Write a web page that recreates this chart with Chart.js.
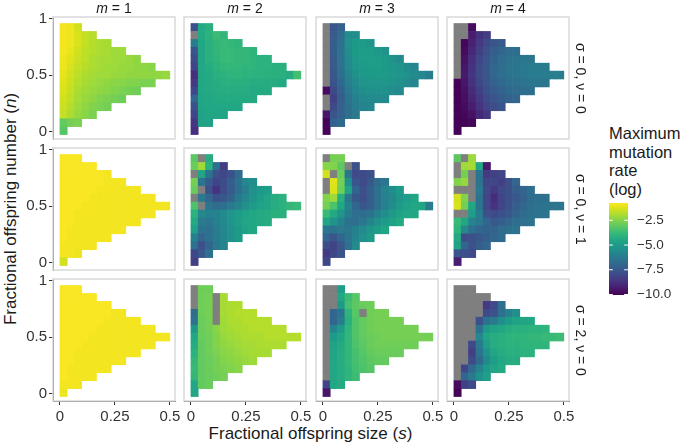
<!DOCTYPE html>
<html>
<head>
<meta charset="utf-8">
<script src="https://cdn.jsdelivr.net/npm/chart.js@4.4.1/dist/chart.umd.min.js"></script>
<style>
  body { margin: 0; width: 683px; height: 445px; overflow: hidden; position: relative; background: #fff;
         font-family: "Liberation Sans", Arial, sans-serif; color: #1a1a1a; }
  .box { position: absolute; }
  .box canvas { display: block; }
  .strip-top { position: absolute; top: 0; height: 17px; line-height: 17px; font-size: 14px; text-align: center; white-space: nowrap; }
  .strip-right { position: absolute; width: 17px; line-height: 17px; font-size: 14px; writing-mode: vertical-rl; text-align: center; white-space: nowrap; }
  .title-x { position: absolute; left: 53px; width: 515px; top: 424px; height: 20px; line-height: 20px; font-size: 17px; text-align: center; white-space: nowrap; }
  .title-y { position: absolute; left: -189px; width: 400px; top: 199px; height: 20px; line-height: 20px; font-size: 17px; text-align: center; white-space: nowrap; transform: rotate(-90deg); }
  .legend-title { position: absolute; left: 609px; top: 124px; font-size: 16.5px; line-height: 18.7px; }
</style>
</head>
<body>
<div class="title-y">Fractional offspring number (<i>n</i>)</div>
<div class="title-x">Fractional offspring size (<i>s</i>)</div>
<div class="legend-title">Maximum<br>mutation<br>rate<br>(log)</div>
<script>
// Grid positions (cell centres)
const S_VALUES = [0.017, 0.05, 0.083, 0.117, 0.15, 0.183, 0.217, 0.25, 0.283, 0.317, 0.35, 0.383, 0.417, 0.45, 0.483];
const N_VALUES = [0.92, 0.85, 0.78, 0.71, 0.64, 0.57, 0.5, 0.43, 0.36, 0.29, 0.22, 0.15, 0.08, 0.01];
const S_STEP = 0.0333;
const N_STEP = 0.07;

// Facet labels
const M_LABELS = ['1', '2', '3', '4'];
const CONDITION_LABELS = ['σ = 0, ν = 0', 'σ = 0, ν = 1', 'σ = 2, ν = 0'];

// Ticks
const X_TICKS = [0, 0.25, 0.5];
const Y_TICKS = [0, 0.5, 1];
const LEGEND_TICKS = [-2.5, -5, -7.5, -10];

// Colour scale limits (log mutation rate)
const V_MIN = -10.05;
const V_MAX = -0.75;

// Maximum mutation rate (log), rows from n = 0.92 (top) down to n = 0.01; null = no value
const RATE_M1_S0V0 = [
  [-0.9, -1.0, -1.4],
  [-0.9, -1.0, -1.3, -1.6, -1.8],
  [-0.9, -1.0, -1.3, -1.6, -1.8, -1.9, -2.0],
  [-0.9, -1.1, -1.4, -1.7, -1.8, -1.9, -2.0, -2.1, -2.1],
  [-1.0, -1.2, -1.5, -1.7, -1.9, -2.0, -2.0, -2.1, -2.1, -2.2, -2.3],
  [-1.0, -1.3, -1.6, -1.8, -1.9, -2.0, -2.1, -2.1, -2.2, -2.2, -2.3, -2.3, -2.4],
  [-1.1, -1.4, -1.7, -1.9, -2.0, -2.1, -2.1, -2.2, -2.2, -2.3, -2.3, -2.3, -2.3, -2.3, -2.2],
  [-1.2, -1.5, -1.8, -2.0, -2.1, -2.2, -2.3, -2.4, -2.4, -2.5, -2.5, -2.6, -2.6],
  [-1.3, -1.6, -1.9, -2.1, -2.2, -2.3, -2.4, -2.5, -2.6, -2.7, -2.8],
  [-1.4, -1.7, -2.0, -2.2, -2.3, -2.5, -2.6, -2.7, -2.8],
  [-1.5, -1.8, -2.1, -2.3, -2.5, -2.6, -2.7],
  [-1.6, -1.9, -2.2, -2.4, -2.6],
  [-3.0, -2.7, -2.6],
  [-3.2]
];
const RATE_M2_S0V0 = [
  [-7.8, -4.4, -4.2],
  [null, -4.4, -4.1, -3.7, -3.9],
  [-6.2, -4.5, -4.2, -3.9, -3.8, -3.9, -4.0],
  [-7.6, -4.5, -4.2, -3.9, -3.8, -3.8, -3.9, -3.9, -4.0],
  [-7.9, -4.5, -4.2, -4.0, -3.8, -3.8, -3.9, -3.9, -4.0, -4.1, -4.1],
  [-8.2, -4.5, -4.3, -4.1, -3.9, -3.9, -3.9, -4.0, -4.0, -4.1, -4.1, -4.2, -4.2],
  [-8.8, -4.5, -4.4, -4.2, -4.1, -4.0, -4.0, -4.1, -4.1, -4.1, -4.2, -4.2, -4.2, -4.3, -3.6],
  [-8.5, -4.5, -4.4, -4.3, -4.2, -4.2, -4.2, -4.2, -4.3, -4.3, -4.3, -4.3, -4.4],
  [-8.1, -4.5, -4.4, -4.3, -4.3, -4.3, -4.3, -4.3, -4.4, -4.4, -4.4],
  [-7.0, -4.6, -4.5, -4.4, -4.4, -4.4, -4.4, -4.4, -4.4],
  [-7.8, -4.6, -4.5, -4.5, -4.5, -4.5, -4.5],
  [-8.2, -4.7, -4.6, -4.6, -4.6],
  [-8.6, -4.7, -4.7],
  [-8.8]
];
const RATE_M3_S0V0 = [
  [null, -7.6, -7.2],
  [null, -7.4, -6.8, -5.5, -5.5],
  [null, -7.3, -6.6, -5.4, -5.0, -5.0, -5.2],
  [null, -7.3, -6.5, -5.5, -5.0, -4.9, -4.9, -5.1, -5.3],
  [null, -7.4, -6.5, -5.6, -5.1, -4.9, -4.8, -4.9, -5.0, -5.3, -5.6],
  [null, -7.4, -6.6, -5.7, -5.2, -5.0, -4.9, -4.9, -5.0, -5.1, -5.3, -5.6, -5.8],
  [null, -7.5, -6.7, -5.9, -5.4, -5.1, -5.0, -5.0, -5.0, -5.1, -5.2, -5.4, -5.6, -5.8, -6.1],
  [null, -7.7, -6.9, -6.1, -5.6, -5.3, -5.2, -5.2, -5.2, -5.3, -5.4, -5.6, -5.8],
  [-9.8, -8.0, -7.1, -6.3, -5.8, -5.5, -5.4, -5.4, -5.4, -5.5, -5.6],
  [null, -8.3, -7.3, -6.5, -6.0, -5.7, -5.6, -5.6, -5.6],
  [null, -8.0, -7.2, -6.6, -6.1, -5.9, -5.8],
  [-9.5, -7.6, -7.1, -6.6, -6.3],
  [-10.0, -7.2, -6.9],
  [-10.0]
];
const RATE_M4_S0V0 = [
  [null, null, -9.8],
  [null, null, -9.3, -8.7, -8.4],
  [null, -9.9, -9.2, -8.5, -8.0, -7.6, -7.4],
  [null, -9.8, -9.0, -8.3, -7.8, -7.3, -7.0, -6.8, -6.7],
  [null, -9.6, -8.8, -8.1, -7.6, -7.1, -6.8, -6.6, -6.5, -6.4, -6.4],
  [null, -9.5, -8.7, -8.0, -7.5, -7.0, -6.7, -6.5, -6.4, -6.3, -6.2, -6.2, -6.2],
  [null, -9.4, -8.6, -8.0, -7.5, -7.0, -6.7, -6.5, -6.4, -6.3, -6.2, -6.2, -6.1, -6.1, -6.1],
  [-10.0, -9.5, -8.7, -8.1, -7.6, -7.2, -6.9, -6.7, -6.6, -6.5, -6.4, -6.4, -6.4],
  [-10.0, -9.6, -8.9, -8.3, -7.8, -7.4, -7.1, -6.9, -6.8, -6.7, -6.7],
  [-10.0, -9.7, -9.1, -8.5, -8.0, -7.6, -7.3, -7.1, -7.0],
  [-10.0, -9.8, -9.3, -8.7, -8.2, -7.9, -7.6],
  [-10.0, -9.9, -9.6, -9.0, -8.6],
  [-10.0, -10.0, -9.9],
  [-10.0]
];

const RATE_M1_S0V1 = [
  [-0.8, -0.8, -0.8],
  [-0.8, -0.8, -0.8, -0.8, -0.8],
  [-0.8, -0.8, -0.8, -0.8, -0.8, -0.8, -0.9],
  [-0.8, -0.8, -0.8, -0.8, -0.8, -0.8, -0.9, -0.9, -0.9],
  [-0.8, -0.8, -0.8, -0.8, -0.8, -0.9, -0.9, -0.9, -0.9, -0.9, -0.9],
  [-0.8, -0.8, -0.8, -0.8, -0.9, -0.9, -0.9, -0.9, -0.9, -0.9, -0.9, -0.9, -0.9],
  [-0.8, -0.8, -0.8, -0.9, -0.9, -0.9, -0.9, -0.9, -0.9, -0.9, -0.9, -0.9, -0.9, -0.9, -0.9],
  [-0.8, -0.8, -0.9, -0.9, -0.9, -0.9, -0.9, -0.9, -0.9, -0.9, -0.9, -0.9, -0.9],
  [-0.8, -0.8, -0.9, -0.9, -0.9, -0.9, -0.9, -0.9, -0.9, -0.9, -0.9],
  [-0.8, -0.9, -0.9, -0.9, -0.9, -0.9, -0.9, -0.9, -0.9],
  [-0.8, -0.9, -0.9, -0.9, -0.9, -0.9, -0.9],
  [-0.9, -0.9, -0.9, -0.9, -0.9],
  [-0.9, -0.9, -1.0],
  [-1.4]
];
const RATE_M2_S0V1 = [
  [-3.1, null, -4.3],
  [-2.9, -2.1, -4.1, -6.6, -8.4],
  [null, -4.6, -6.5, -7.8, -8.1, -7.8, -6.8],
  [-2.7, -6.5, -7.4, -8.2, -7.9, -7.3, -6.6, -5.8, -5.5],
  [-2.9, null, -7.8, -8.7, -8.0, -7.4, -6.7, -6.1, -5.4, -5.0, -4.9],
  [null, -6.3, -7.0, -7.8, -7.5, -7.1, -6.3, -5.8, -5.3, -4.9, -4.6, -4.3, -4.1],
  [-3.4, null, -6.5, -6.8, -6.7, -6.3, -5.9, -5.4, -5.0, -4.7, -4.6, -4.3, -4.1, -3.9, -3.8],
  [-4.1, -5.7, -6.0, -5.9, -5.6, -5.2, -4.9, -4.7, -4.5, -4.4, -4.3, -4.2, -4.2],
  [-4.4, -6.3, -6.4, -6.0, -5.7, -5.2, -4.8, -4.6, -4.5, -4.4, -4.3],
  [-4.8, -6.5, -6.6, -6.2, -5.8, -5.4, -5.0, -4.7, -4.5],
  [-6.0, -7.0, -6.6, -6.2, -5.8, -5.4, -5.0],
  [-6.6, -7.8, -7.0, -6.3, -5.9],
  [-8.1, -7.5, -6.6],
  [-8.3]
];
const RATE_M3_S0V1 = [
  [null, -2.7, -2.7],
  [-2.4, -2.5, -3.1, null, -7.8],
  [-1.4, null, -2.9, -6.4, -8.0, -8.0, -7.8],
  [null, -1.2, -2.7, -5.4, -7.6, -8.0, -7.5, -6.8, -6.4],
  [null, -1.3, -2.8, -4.6, -7.0, -7.8, -7.3, -6.6, -5.9, -5.5, -5.0],
  [-2.5, -2.1, -4.2, -6.4, -7.5, -7.9, -7.3, -6.6, -6.0, -5.7, -5.2, -4.9, -4.6],
  [-2.7, -3.4, -4.5, -6.0, -7.0, -7.6, -7.3, -6.6, -6.0, -5.5, -5.0, -4.7, -4.5, -4.5, -6.2],
  [-3.8, -4.4, -5.2, -6.2, -6.7, -6.8, -6.6, -6.0, -5.5, -5.0, -4.7, -4.5, -4.5],
  [-4.6, -5.3, -5.9, -6.6, -6.7, -6.4, -5.9, -5.4, -5.0, -4.7, -4.4],
  [-6.4, -6.5, -6.3, -6.4, -6.0, -5.6, -5.2, -4.9, -4.6],
  [-7.0, -7.6, -7.0, -6.4, -5.9, -5.4, -5.0],
  [-7.9, -8.2, -7.5, -6.6, -5.6],
  [-8.5, -8.1, -7.6],
  [-8.1]
];
const RATE_M4_S0V1 = [
  [-3.1, null, -2.1],
  [null, -2.1, -2.0, -4.5, -9.4],
  [null, -2.7, null, -6.4, -8.5, -8.3, -8.1],
  [-2.5, -2.2, null, -6.5, -8.1, -8.1, -8.3, -7.8, -7.0],
  [null, null, null, -6.3, -8.0, -8.5, -8.0, -7.8, -7.3, -7.0, -6.7],
  [-1.4, -2.5, null, -6.5, -8.1, -8.9, -8.2, -7.8, -7.5, -7.1, -6.8, -6.7, -6.6],
  [-1.3, -2.7, -4.5, -6.5, -8.1, -8.7, -8.2, -7.8, -7.3, -7.0, -6.7, -6.6, -6.5, -6.4, -6.4],
  [null, null, -4.9, -6.2, -7.8, -8.0, -7.8, -7.5, -7.1, -6.8, -6.6, -6.5, -6.5],
  [-3.8, -4.5, -5.9, -6.3, -7.0, -7.5, -7.3, -7.0, -6.7, -6.6, -6.5],
  [-4.0, -5.7, -6.6, -7.0, -7.1, -7.1, -6.8, -6.6, -6.5],
  [-4.4, -8.0, -7.8, -7.5, -7.3, -7.0, -6.8],
  [-4.7, -7.0, -7.8, -7.3, -7.0],
  [-7.6, -7.8, -8.0],
  [-9.3]
];

const RATE_M1_S2V0 = [
  [-0.8, -0.8, -0.8],
  [-0.8, -0.8, -0.8, -0.8, -0.8],
  [-0.8, -0.8, -0.8, -0.8, -0.8, -0.8, -0.8],
  [-0.8, -0.8, -0.8, -0.8, -0.8, -0.8, -0.8, -0.9, -0.9],
  [-0.8, -0.8, -0.8, -0.8, -0.8, -0.8, -0.9, -0.9, -0.9, -0.9, -0.9],
  [-0.8, -0.8, -0.8, -0.8, -0.8, -0.9, -0.9, -0.9, -0.9, -0.9, -0.9, -0.9, -0.9],
  [-0.8, -0.8, -0.8, -0.8, -0.9, -0.9, -0.9, -0.9, -0.9, -0.9, -0.9, -0.9, -0.9, -0.9, -0.9],
  [-0.8, -0.8, -0.8, -0.9, -0.9, -0.9, -0.9, -0.9, -0.9, -0.9, -0.9, -0.9, -0.9],
  [-0.8, -0.8, -0.9, -0.9, -0.9, -0.9, -0.9, -0.9, -0.9, -0.9, -0.9],
  [-0.8, -0.8, -0.9, -0.9, -0.9, -0.9, -0.9, -0.9, -0.9],
  [-0.8, -0.9, -0.9, -0.9, -0.9, -0.9, -0.9],
  [-0.8, -0.9, -0.9, -0.9, -0.9],
  [-0.9, -0.9, -0.9],
  [-1.0]
];
const RATE_M2_S2V0 = [
  [null, -2.8, -2.8],
  [null, -2.8, -2.7, null, -2.0],
  [null, -2.8, -2.7, null, -2.0, -1.9, -1.9],
  [-6.8, -2.8, -2.7, null, -2.0, -1.9, -1.8, -1.8, -1.8],
  [-6.6, -2.9, -2.7, null, -2.1, -1.9, -1.9, -1.8, -1.8, -1.8, -1.8],
  [-5.1, -2.9, -2.7, -2.4, -2.1, -2.0, -1.9, -1.9, -1.8, -1.8, -1.8, -1.8, -1.8],
  [-4.5, -2.9, -2.8, -2.5, -2.2, -2.1, -2.0, -1.9, -1.9, -1.9, -1.8, -1.8, -1.8, -1.8, -1.8],
  [-4.3, -3.0, -2.8, -2.5, -2.3, -2.2, -2.1, -2.0, -2.0, -1.9, -1.9, -1.9, -1.9],
  [-4.1, -3.0, -2.8, -2.6, -2.4, -2.3, -2.2, -2.1, -2.0, -2.0, -2.0],
  [-3.9, -3.0, -2.9, -2.7, -2.5, -2.4, -2.3, -2.2, -2.1],
  [-3.8, -3.0, -2.9, -2.7, -2.6, -2.5, -2.4],
  [-3.9, -3.0, -2.9, -2.8, -2.7],
  [-4.5, -3.0, -2.9],
  [-4.6]
];
const RATE_M3_S2V0 = [
  [null, null, -4.8],
  [null, null, -4.5, -3.7, -3.2],
  [null, null, -5.0, -3.5, -3.1, -2.9, -2.8],
  [null, -7.0, -6.5, -4.0, -3.2, null, -2.8, -2.7, -2.7],
  [null, -7.0, -6.2, -4.2, -3.3, -3.0, -2.8, -2.7, -2.7, -2.7, -2.7],
  [null, -5.9, -5.0, -4.0, -3.3, -3.0, -2.8, -2.7, -2.7, -2.7, -2.7, -2.7, -2.7],
  [null, -5.0, -4.6, -3.9, -3.3, -3.0, -2.9, -2.8, -2.7, -2.7, -2.7, -2.7, -2.7, -2.7, -2.7],
  [null, -4.7, -4.4, -3.9, -3.4, -3.1, -2.9, -2.8, -2.8, -2.8, -2.8, -2.8, -2.8],
  [null, -4.6, -4.3, -3.9, -3.5, -3.2, -3.0, -2.9, -2.9, -2.9, -2.9],
  [null, -4.5, -4.3, -3.9, -3.5, -3.3, -3.1, -3.0, -3.0],
  [null, -4.5, -4.3, -4.0, -3.6, -3.4, -3.2],
  [null, -4.5, -4.3, -4.0, -3.7],
  [-8.2, -4.5, -4.4],
  [-9.5]
];
const RATE_M4_S2V0 = [
  [null, null, null],
  [null, null, null, null, null],
  [null, null, null, null, -8.5, -8.0, -6.6],
  [null, null, null, null, -8.0, -7.8, -6.7, -6.0, -5.5],
  [null, null, null, -7.8, -6.6, -6.3, -5.5, -5.0, -4.7, -4.6, -4.5],
  [null, null, null, -6.6, -5.1, -4.7, -4.5, -4.3, -4.2, -4.2, -4.1, -4.1, -4.0],
  [null, null, null, -5.8, -4.6, -4.3, -4.2, -4.1, -4.0, -4.0, -3.9, -3.9, -3.8, -3.8, -3.7],
  [null, null, -8.0, -6.3, -4.8, -4.3, -4.2, -4.1, -4.1, -4.0, -4.0, -4.0, -4.0],
  [null, null, -8.3, -6.5, -5.4, -4.6, -4.3, -4.2, -4.2, -4.1, -4.1],
  [null, null, -8.0, -6.9, -5.7, -4.9, -4.5, -4.3, -4.3],
  [null, -8.1, -6.9, -5.9, -5.0, -4.6, -4.4],
  [null, -7.0, -6.3, -5.4, -4.8],
  [-9.8, -8.3, -8.0],
  [-10.0]
];

// Facet grid: rows = conditions, columns = m
const PANELS = [
  [RATE_M1_S0V0, RATE_M2_S0V0, RATE_M3_S0V0, RATE_M4_S0V0],
  [RATE_M1_S0V1, RATE_M2_S0V1, RATE_M3_S0V1, RATE_M4_S0V1],
  [RATE_M1_S2V0, RATE_M2_S2V0, RATE_M3_S2V0, RATE_M4_S2V0]
];

// Layout
const PANEL_LEFT = [53, 184, 316, 447];
const PANEL_TOP = [17, 148, 279];
const PANEL_SIZE = 122;
const AXIS_W = 53;
const AXIS_H = 32;
const PAD = 12;
const X_MIN = -0.031, X_MAX = 0.523;
const Y_MIN = -0.064, Y_MAX = 1.012;

const NA_COLOR = '#7f7f7f';
const BORDER_COLOR = '#d9d9d9';
const AXIS_COLOR = '#333333';
const VIRIDIS = ['#440154', '#471365', '#482475', '#463480', '#414487', '#3b528b', '#355f8d',
  '#2f6c8e', '#2a788e', '#25848e', '#21918c', '#1e9c89', '#22a884', '#2fb47c', '#44bf70',
  '#5ec962', '#7ad151', '#9bd93c', '#bddf26', '#dfe318', '#fde725'];

Chart.defaults.font.family = "'Liberation Sans', Arial, sans-serif";

function hexToRgb(h) {
  return [parseInt(h.slice(1, 3), 16), parseInt(h.slice(3, 5), 16), parseInt(h.slice(5, 7), 16)];
}

function viridis(t) {
  t = Math.min(1, Math.max(0, t));
  const p = t * (VIRIDIS.length - 1);
  const i = Math.min(VIRIDIS.length - 2, Math.floor(p));
  const f = p - i;
  const a = hexToRgb(VIRIDIS[i]), b = hexToRgb(VIRIDIS[i + 1]);
  const c = a.map((v, k) => Math.round(v + (b[k] - v) * f));
  return `rgb(${c[0]},${c[1]},${c[2]})`;
}

function rateColor(v) {
  return v === null ? NA_COLOR : viridis((v - V_MIN) / (V_MAX - V_MIN));
}

// Draws the tiles of a panel and its light border
const heatmapPlugin = {
  id: 'heatmap',
  beforeDatasetsDraw(chart) {
    const { ctx, chartArea: a, scales: { x, y } } = chart;
    ctx.save();
    ctx.beginPath();
    ctx.rect(a.left, a.top, a.width, a.height);
    ctx.clip();
    chart.data.datasets[0].data.forEach(p => {
      const x0 = x.getPixelForValue(p.x - S_STEP / 2);
      const x1 = x.getPixelForValue(p.x + S_STEP / 2);
      const y0 = y.getPixelForValue(p.y + N_STEP / 2);
      const y1 = y.getPixelForValue(p.y - N_STEP / 2);
      ctx.fillStyle = rateColor(p.v);
      // slight overlap so neighbouring tiles only leave a faint seam
      ctx.fillRect(x0 - 0.3, y0 - 0.3, x1 - x0 + 0.6, y1 - y0 + 0.6);
    });
    ctx.restore();
    ctx.save();
    ctx.strokeStyle = BORDER_COLOR;
    ctx.lineWidth = 1.5;
    ctx.strokeRect(a.left, a.top, a.width, a.height);
    ctx.restore();
  }
};

function axisOptions(show, tickValues, size, horizontal) {
  return {
    type: 'linear',
    display: show,
    z: 1,
    afterBuildTicks: s => { s.ticks = tickValues.map(v => ({ value: v })); },
    afterFit: s => {
      if (!show) return;
      if (horizontal) { s.height = size; s.paddingLeft = 0; s.paddingRight = 0; }
      else { s.width = size; s.paddingTop = 0; s.paddingBottom = 0; }
    },
    ticks: {
      color: AXIS_COLOR,
      font: { size: 15 },
      padding: horizontal ? 3 : 2,
      maxRotation: 0,
      autoSkip: false,
      callback: v => String(v)
    },
    grid: { display: true, drawOnChartArea: false, drawTicks: true, tickLength: 4, color: AXIS_COLOR, lineWidth: 1 },
    border: { display: true, color: AXIS_COLOR, width: 1 }
  };
}

function panelPoints(rows) {
  const pts = [];
  rows.forEach((row, j) => {
    row.forEach((v, k) => pts.push({ x: S_VALUES[k], y: N_VALUES[j], v: v }));
  });
  return pts;
}

function addBox(left, top, w, h) {
  const box = document.createElement('div');
  box.className = 'box';
  box.style.left = left + 'px';
  box.style.top = top + 'px';
  box.style.width = w + 'px';
  box.style.height = h + 'px';
  const canvas = document.createElement('canvas');
  canvas.width = w;
  canvas.height = h;
  box.appendChild(canvas);
  document.body.appendChild(box);
  return canvas;
}

function makePanel(r, c) {
  const isLeft = c === 0;
  const isBottom = r === PANELS.length - 1;
  const w = PANEL_SIZE + (isLeft ? AXIS_W : 0) + 2 * PAD;
  const h = PANEL_SIZE + (isBottom ? AXIS_H : 0) + 2 * PAD;
  const canvas = addBox(PANEL_LEFT[c] - (isLeft ? AXIS_W : 0) - PAD, PANEL_TOP[r] - PAD, w, h);

  const x = axisOptions(isBottom, X_TICKS, AXIS_H, true);
  x.min = X_MIN; x.max = X_MAX;
  const y = axisOptions(isLeft, Y_TICKS, AXIS_W, false);
  y.min = Y_MIN; y.max = Y_MAX;

  new Chart(canvas, {
    type: 'scatter',
    data: { datasets: [{ data: panelPoints(PANELS[r][c]), pointRadius: 0, showLine: false }] },
    options: {
      responsive: false,
      animation: false,
      devicePixelRatio: 1,
      events: [],
      layout: { padding: PAD },
      plugins: { legend: { display: false }, tooltip: { enabled: false } },
      scales: { x, y }
    },
    plugins: [heatmapPlugin]
  });
}

// Colour bar legend
const colorBarPlugin = {
  id: 'colorBar',
  beforeDatasetsDraw(chart) {
    const { ctx, chartArea: a, scales: { y } } = chart;
    const g = ctx.createLinearGradient(0, a.bottom, 0, a.top);
    VIRIDIS.forEach((c, i) => g.addColorStop(i / (VIRIDIS.length - 1), c));
    ctx.save();
    ctx.fillStyle = g;
    ctx.fillRect(a.left, a.top, a.width, a.height);
    ctx.strokeStyle = '#ffffff';
    ctx.lineWidth = 1;
    const len = a.width / 5;
    LEGEND_TICKS.forEach(v => {
      const py = y.getPixelForValue(v);
      ctx.beginPath();
      ctx.moveTo(a.left, py); ctx.lineTo(a.left + len, py);
      ctx.moveTo(a.right - len, py); ctx.lineTo(a.right, py);
      ctx.stroke();
    });
    ctx.restore();
  }
};

function makeLegend() {
  const barW = 19, barH = 92, labelW = 50;
  const canvas = addBox(609 - PAD, 203 - PAD, barW + labelW + 2 * PAD, barH + 2 * PAD);
  new Chart(canvas, {
    type: 'scatter',
    data: { datasets: [{ data: [], pointRadius: 0 }] },
    options: {
      responsive: false,
      animation: false,
      devicePixelRatio: 1,
      events: [],
      layout: { padding: PAD },
      plugins: { legend: { display: false }, tooltip: { enabled: false } },
      scales: {
        x: { type: 'linear', display: false, min: 0, max: 1 },
        y: {
          type: 'linear',
          position: 'right',
          min: V_MIN,
          max: V_MAX,
          afterBuildTicks: s => { s.ticks = LEGEND_TICKS.map(v => ({ value: v })); },
          afterFit: s => { s.width = labelW; s.paddingTop = 0; s.paddingBottom = 0; },
          ticks: {
            color: AXIS_COLOR,
            font: { size: 13.5 },
            padding: 9,
            callback: v => (v < 0 ? '\u2212' : '') + Math.abs(v).toFixed(1)
          },
          grid: { display: false, drawTicks: false },
          border: { display: false }
        }
      }
    },
    plugins: [colorBarPlugin]
  });
}

// Strip labels
function addStrips() {
  M_LABELS.forEach((m, c) => {
    const d = document.createElement('div');
    d.className = 'strip-top';
    d.style.left = PANEL_LEFT[c] + 'px';
    d.style.width = PANEL_SIZE + 'px';
    d.innerHTML = '<i>m</i> = ' + m;
    document.body.appendChild(d);
  });
  CONDITION_LABELS.forEach((t, r) => {
    const d = document.createElement('div');
    d.className = 'strip-right';
    d.style.left = '572px';
    d.style.top = PANEL_TOP[r] + 'px';
    d.style.height = PANEL_SIZE + 'px';
    d.textContent = t;
    document.body.appendChild(d);
  });
}

for (let r = 0; r < PANELS.length; r++) {
  for (let c = 0; c < PANELS[r].length; c++) makePanel(r, c);
}
makeLegend();
addStrips();
</script>
</body>
</html>
